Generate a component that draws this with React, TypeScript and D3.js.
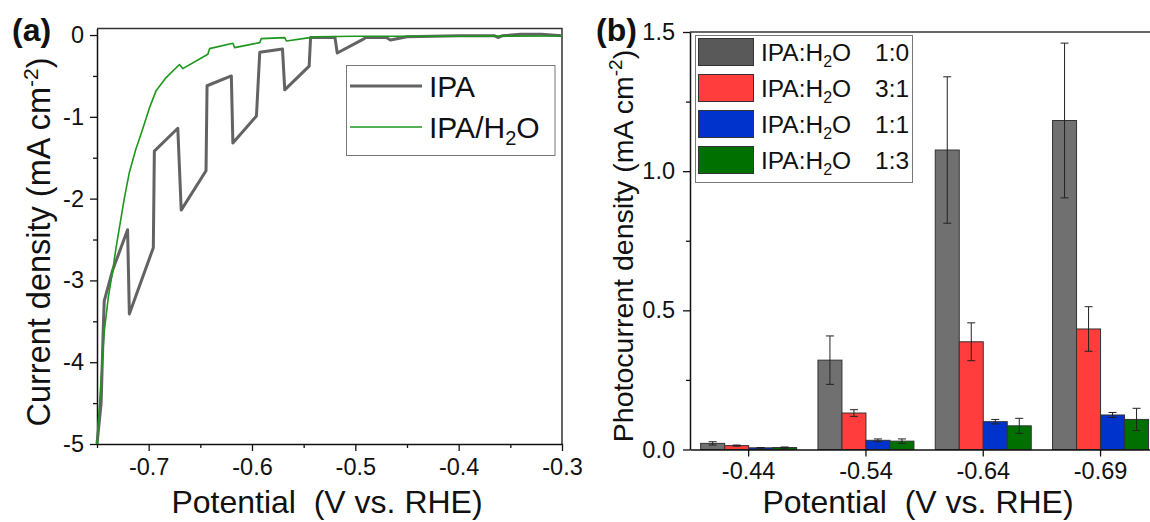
import React, { useEffect, useRef } from 'react';
import * as d3 from 'd3';

// (a) chopped-light LSV
const ipaPotential = [-0.75, -0.746, -0.744, -0.743, -0.735, -0.7204, -0.7187, -0.6955, -0.6945, -0.6718, -0.6685, -0.6445, -0.6435, -0.62, -0.6185, -0.5957, -0.5925, -0.5705, -0.5683, -0.5447, -0.5433, -0.5197, -0.5175, -0.4922, -0.49, -0.47, -0.466, -0.45, -0.4, -0.365, -0.362, -0.358, -0.34, -0.32, -0.3];
const ipaCurrent = [-5.0, -4.5, -3.61, -3.25, -2.88, -2.38, -3.41, -2.6, -1.42, -1.14, -2.14, -1.66, -0.62, -0.5, -1.32, -0.99, -0.21, -0.17, -0.67, -0.38, -0.03, -0.03, -0.22, -0.05, -0.03, -0.03, -0.06, -0.02, -0.01, -0.01, -0.03, -0.01, 0.01, 0.01, -0.01];
const waterPotential = [-0.75, -0.748, -0.745, -0.743, -0.739, -0.735, -0.7317, -0.7236, -0.7187, -0.7125, -0.7058, -0.6995, -0.6928, -0.6831, -0.6702, -0.667, -0.6427, -0.6411, -0.6185, -0.6168, -0.5925, -0.591, -0.5683, -0.5667, -0.544, -0.54, -0.5, -0.4, -0.3];
const waterCurrent = [-5.0, -4.6, -4.0, -3.63, -3.2, -2.9, -2.61, -2.0, -1.68, -1.4, -1.15, -0.9, -0.68, -0.52, -0.36, -0.41, -0.235, -0.166, -0.1, -0.154, -0.093, -0.044, -0.032, -0.073, -0.032, -0.02, -0.015, -0.015, -0.012];
const potentialTicksA = [-0.7, -0.6, -0.5, -0.4, -0.3];
const potentialMinorA = [-0.75, -0.65, -0.55, -0.45, -0.35];
const currentTicksA = [0, -1, -2, -3, -4, -5];
const currentMinorA = [-0.5, -1.5, -2.5, -3.5, -4.5];

// (b) photocurrent bars
const potentials = ['-0.44', '-0.54', '-0.64', '-0.69'];
const ratios = ['1:0', '3:1', '1:1', '1:3'];
const density10 = [0.022, 0.321, 1.076, 1.182];
const err10 = [0.006, 0.087, 0.263, 0.278];
const density31 = [0.014, 0.131, 0.387, 0.433];
const err31 = [0.002, 0.012, 0.068, 0.08];
const density11 = [0.006, 0.033, 0.1, 0.124];
const err11 = [0.001, 0.005, 0.008, 0.009];
const density13 = [0.007, 0.03, 0.085, 0.108];
const err13 = [0.002, 0.008, 0.027, 0.04];
const photoTicks = [0, 0.5, 1.0, 1.5];
const photoMinor = [0.25, 0.75, 1.25];

const FONT = '"Liberation Sans", Arial, sans-serif';

const App = () => {
    const ref = useRef<SVGSVGElement>(null);

    useEffect(() => {
        const svg = d3.select(ref.current);
        svg.selectAll('*').remove();

        const styleAxis = (g: any, size: number) => {
            g.attr('font-family', FONT).attr('font-size', size);
            g.selectAll('line').attr('stroke', '#111').attr('stroke-width', 1.3);
            g.selectAll('path').attr('stroke', '#111').attr('stroke-width', 1.5);
            g.selectAll('text').attr('fill', '#111');
        };

        // ---------- panel (a) ----------
        const xA = d3.scaleLinear().domain([-0.75, -0.3]).range([97, 562]);
        const yA = d3.scaleLinear().domain([-5, 0.08]).range([444, 28.5]);

        svg.append('path')
            .attr('d', `M${xA(-0.75)},${yA(0.08)}H${xA(-0.3)}V${yA(-5)}`)
            .attr('fill', 'none').attr('stroke', '#333').attr('stroke-width', 1.5);

        svg.append('g').attr('transform', `translate(0,${yA(-5)})`)
            .call(d3.axisBottom(xA).tickValues(potentialMinorA).tickSize(4).tickFormat(() => ''))
            .call((g: any) => g.select('.domain').remove())
            .call((g: any) => styleAxis(g, 23.5));
        svg.append('g').attr('transform', `translate(0,${yA(-5)})`)
            .call(d3.axisBottom(xA).tickValues(potentialTicksA).tickSize(7).tickSizeOuter(0).tickPadding(7)
                .tickFormat((d: any) => d.toFixed(1)))
            .call((g: any) => styleAxis(g, 23.5));

        svg.append('g').attr('transform', `translate(${xA(-0.75)},0)`)
            .call(d3.axisLeft(yA).tickValues(currentMinorA).tickSize(4).tickFormat(() => ''))
            .call((g: any) => g.select('.domain').remove())
            .call((g: any) => styleAxis(g, 23.5));
        svg.append('g').attr('transform', `translate(${xA(-0.75)},0)`)
            .call(d3.axisLeft(yA).tickValues(currentTicksA).tickSize(7).tickSizeOuter(0).tickPadding(6)
                .tickFormat((d: any) => String(d)))
            .call((g: any) => styleAxis(g, 23.5));

        const ipaLine = d3.line<number>()
            .x((_, i) => xA(ipaPotential[i]))
            .y((d) => yA(d));
        const waterLine = d3.line<number>()
            .x((_, i) => xA(waterPotential[i]))
            .y((d) => yA(d));

        svg.append('path').attr('d', ipaLine(ipaCurrent))
            .attr('fill', 'none').attr('stroke', '#636363').attr('stroke-width', 3)
            .attr('stroke-linejoin', 'round');
        svg.append('path').attr('d', waterLine(waterCurrent))
            .attr('fill', 'none').attr('stroke', '#1e961e').attr('stroke-width', 1.6)
            .attr('stroke-linejoin', 'round');

        // legend (a)
        const legA = svg.append('g').attr('font-family', FONT).attr('font-size', 30).attr('fill', '#111');
        legA.append('rect').attr('x', 346.5).attr('y', 65.5).attr('width', 208.5).attr('height', 90)
            .attr('fill', '#fff').attr('stroke', '#777').attr('stroke-width', 1);
        legA.append('line').attr('x1', 350).attr('x2', 422).attr('y1', 86).attr('y2', 86)
            .attr('stroke', '#636363').attr('stroke-width', 3);
        legA.append('line').attr('x1', 350).attr('x2', 422).attr('y1', 127).attr('y2', 127)
            .attr('stroke', '#1e961e').attr('stroke-width', 1.6);
        legA.append('text').attr('x', 429).attr('y', 86).attr('dy', '0.35em').text('IPA');
        const legA2 = legA.append('text').attr('x', 429).attr('y', 127).attr('dy', '0.35em');
        legA2.append('tspan').text('IPA/H');
        legA2.append('tspan').attr('font-size', 20).attr('dy', 7).text('2');
        legA2.append('tspan').attr('dy', -7).text('O');

        // titles (a)
        svg.append('text').attr('x', 327).attr('y', 513).attr('text-anchor', 'middle')
            .attr('font-family', FONT).attr('font-size', 32).attr('fill', '#111')
            .text('Potential\u00a0\u00a0(V vs. RHE)');
        const yTitleA = svg.append('text').attr('transform', 'translate(50,242) rotate(-90)')
            .attr('text-anchor', 'middle').attr('font-family', FONT).attr('font-size', 32.5).attr('fill', '#111');
        yTitleA.append('tspan').text('Current density (mA cm');
        yTitleA.append('tspan').attr('font-size', 21).attr('dy', -12).text('-2');
        yTitleA.append('tspan').attr('dy', 12).text(')');

        svg.append('text').attr('x', 12).attr('y', 41).attr('font-family', FONT)
            .attr('font-weight', 'bold').attr('font-size', 32).attr('fill', '#111').text('(a)');

        // ---------- panel (b) ----------
        const xB = d3.scaleBand().domain(potentials).range([690, 1159.2]);
        const xSub = d3.scaleBand().domain(ratios).range([-48, 48]);
        const yB = d3.scaleLinear().domain([0, 1.5]).range([449.5, 32]);

        svg.append('path').attr('d', `M${690},${yB(1.5)}H1150`)
            .attr('fill', 'none').attr('stroke', '#333').attr('stroke-width', 1.5);

        const seriesValues = [density10, density31, density11, density13];
        const seriesErrors = [err10, err31, err11, err13];
        const barFill = ['#707070', '#ff3d3d', '#0033cc', '#007000'];
        const legendFill = ['#595959', '#ff3d3d', '#0033cc', '#007000'];

        const groups = svg.append('g').selectAll('g').data(potentials).enter().append('g')
            .attr('transform', (d) => `translate(${(xB(d) as number) + xB.bandwidth() / 2},0)`);

        const cells = groups.selectAll('g')
            .data((p) => ratios.map((r, j) => {
                const i = potentials.indexOf(p);
                return { ratio: r, j, value: seriesValues[j][i], err: seriesErrors[j][i] };
            }))
            .enter().append('g');

        cells.append('rect')
            .attr('x', (d) => xSub(d.ratio) as number)
            .attr('y', (d) => yB(d.value))
            .attr('width', xSub.bandwidth())
            .attr('height', (d) => yB(0) - yB(d.value))
            .attr('fill', (d) => barFill[d.j])
            .attr('stroke', '#333').attr('stroke-width', 1);

        const mid = (d: any) => (xSub(d.ratio) as number) + xSub.bandwidth() / 2;
        const errG = cells.append('g').attr('stroke', '#222').attr('stroke-width', 1);
        errG.append('line')
            .attr('x1', mid).attr('x2', mid)
            .attr('y1', (d) => yB(d.value - d.err))
            .attr('y2', (d) => yB(d.value + d.err));
        errG.append('line')
            .attr('x1', (d) => mid(d) - 4).attr('x2', (d) => mid(d) + 4)
            .attr('y1', (d) => yB(d.value + d.err))
            .attr('y2', (d) => yB(d.value + d.err));
        errG.append('line')
            .attr('x1', (d) => mid(d) - 4).attr('x2', (d) => mid(d) + 4)
            .attr('y1', (d) => yB(d.value - d.err))
            .attr('y2', (d) => yB(d.value - d.err));

        svg.append('g').attr('transform', `translate(0,${yB(0)})`)
            .call(d3.axisBottom(xB).tickSize(7).tickSizeOuter(0).tickPadding(6))
            .call((g: any) => styleAxis(g, 23.5));

        svg.append('g').attr('transform', `translate(690,0)`)
            .call(d3.axisLeft(yB).tickValues(photoMinor).tickSize(4).tickFormat(() => ''))
            .call((g: any) => g.select('.domain').remove())
            .call((g: any) => styleAxis(g, 23.5));
        svg.append('g').attr('transform', `translate(690,0)`)
            .call(d3.axisLeft(yB).tickValues(photoTicks).tickSize(7).tickSizeOuter(0).tickPadding(8)
                .tickFormat((d: any) => d.toFixed(1)))
            .call((g: any) => styleAxis(g, 23.5));

        // legend (b)
        const legB = svg.append('g').attr('font-family', FONT).attr('font-size', 24.5).attr('fill', '#111');
        legB.append('rect').attr('x', 695.5).attr('y', 35.5).attr('width', 217).attr('height', 147)
            .attr('fill', '#fff').attr('stroke', '#777').attr('stroke-width', 1);
        const rowY = d3.scalePoint().domain(ratios).range([52, 160]);
        ratios.forEach((r, j) => {
            const cy = rowY(r) as number;
            legB.append('rect').attr('x', 698.5).attr('y', cy - 13.5).attr('width', 55).attr('height', 27)
                .attr('fill', legendFill[j]).attr('stroke', '#333').attr('stroke-width', 1);
            const t = legB.append('text').attr('x', 761).attr('y', cy).attr('dy', '0.35em');
            t.append('tspan').text('IPA:H');
            t.append('tspan').attr('font-size', 16).attr('dy', 6).text('2');
            t.append('tspan').attr('dy', -6).text('O');
            legB.append('text').attr('x', 875).attr('y', cy).attr('dy', '0.35em').text(r);
        });

        // titles (b)
        svg.append('text').attr('x', 918).attr('y', 513).attr('text-anchor', 'middle')
            .attr('font-family', FONT).attr('font-size', 32).attr('fill', '#111')
            .text('Potential\u00a0\u00a0(V vs. RHE)');
        const yTitleB = svg.append('text').attr('transform', 'translate(633,246) rotate(-90)')
            .attr('text-anchor', 'middle').attr('font-family', FONT).attr('font-size', 28.5).attr('fill', '#111');
        yTitleB.append('tspan').text('Photocurrent density (mA cm');
        yTitleB.append('tspan').attr('font-size', 19).attr('dy', -11).text('-2');
        yTitleB.append('tspan').attr('dy', 11).text(')');

        svg.append('text').attr('x', 596).attr('y', 41).attr('font-family', FONT)
            .attr('font-weight', 'bold').attr('font-size', 32).attr('fill', '#111').text('(b)');
    }, []);

    return (
        <svg ref={ref} width="1150" height="522"
            style={{ position: 'absolute', left: 0, top: 0, background: '#fff' }}>
        </svg>
    );
};

export default App;
